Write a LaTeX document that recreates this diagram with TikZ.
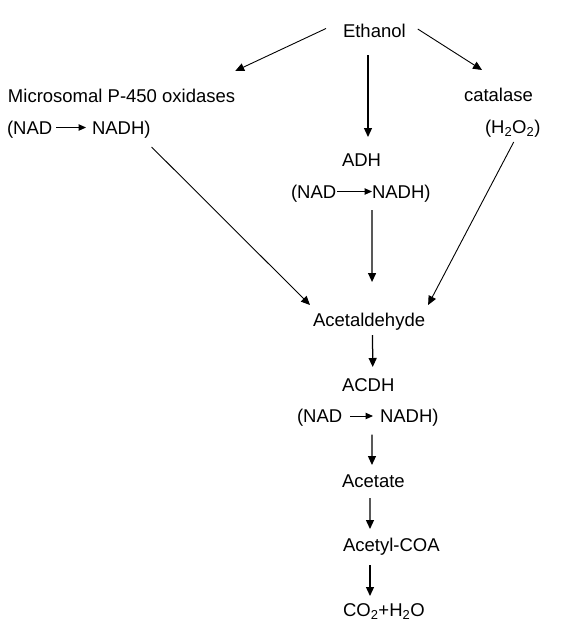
\documentclass[tikz,border=0pt]{standalone}
\usepackage{fontspec}
\setmainfont{Liberation Sans}
\usetikzlibrary{arrows.meta}
\begin{document}
\begin{tikzpicture}[x=1pt,y=-1pt,
  lbl/.style={inner sep=0pt,outer sep=0pt,anchor=base west,font=\fontsize{18.5}{22}\selectfont},
  arr/.style={draw=black,line width=0.9pt,-{Triangle[length=9pt,width=8pt]}},
  varr/.style={arr,line width=1.25pt},
  iarr/.style={draw=black,line width=1pt,-{Triangle[length=7.5pt,width=6.5pt]}}]
\fill[white] (0,0) rectangle (568,630);
\useasboundingbox (0,0) rectangle (568,630);
% nodes
\node[lbl] (eth) at (343,37.5) {Ethanol};
\node[lbl] (mic) at (8,102.5) {Microsomal P-450 oxidases};
\node[lbl] (n1a) at (7,134) {(NAD};
\node[lbl] (n1b) at (92,134) {NADH)};
\node[lbl] (cat) at (464,101.5) {catalase};
\node[lbl] (h2o2) at (485,133) {(H\textsubscript{2}O\textsubscript{2})};
\node[lbl] (adh) at (342,166.5) {ADH};
\node[lbl] (n2a) at (291,198) {(NAD};
\node[lbl] (n2b) at (372,198) {NADH)};
\node[lbl] (ald) at (313,326) {Acetaldehyde};
\node[lbl] (acdh) at (342,391) {ACDH};
\node[lbl] (n3a) at (297,422.5) {(NAD};
\node[lbl] (n3b) at (380,422.5) {NADH)};
\node[lbl] (ace) at (342,487) {Acetate};
\node[lbl] (acoa) at (343,551) {Acetyl-COA};
\node[lbl] (co2) at (343,616) {CO\textsubscript{2}+H\textsubscript{2}O};
% inline arrows
\draw[iarr] ([shift={(4,-6.5)}]n1a.base east) -- ([shift={(-6,-6.5)}]n1b.base west);
\draw[iarr] ([shift={(1,-6.5)}]n2a.base east) -- ([shift={(0,-6.5)}]n2b.base west);
\draw[iarr] ([shift={(8,-6.5)}]n3a.base east) -- ([shift={(-7,-6.5)}]n3b.base west);
% main arrows
\draw[arr] ([shift={(-17,-9)}]eth.base west) -- ([shift={(0,-31.5)}]mic.base east);
\draw[arr] ([shift={(12,-8.5)}]eth.base east) -- ([shift={(18,-31.5)}]cat.base west);
\draw[varr] ([shift={(25,17.5)}]eth.base west) -- ([shift={(26,-29.5)}]adh.base west);
\draw[arr] ([shift={(1,13)}]n1b.base east) -- ([shift={(-3,-21)}]ald.base west);
\draw[arr] ([shift={(1,9)}]h2o2.base) -- ([shift={(3,-21)}]ald.base east);
\draw[varr] ([shift={(0,12)}]n2b.base west) -- ([shift={(3,-44)}]ald.base);
\draw[varr] ([shift={(3.5,9)}]ald.base) -- ([shift={(4.5,-24)}]acdh.base);
\draw[varr] ([shift={(-8,12)}]n3b.base west) -- ([shift={(-1.4,-22)}]ace.base);
\draw[varr] ([shift={(-3.4,11)}]ace.base) -- ([shift={(27,-22)}]acoa.base west);
\draw[varr] ([shift={(27,14)}]acoa.base west) -- ([shift={(27,-20)}]co2.base west);
\end{tikzpicture}
\end{document}
